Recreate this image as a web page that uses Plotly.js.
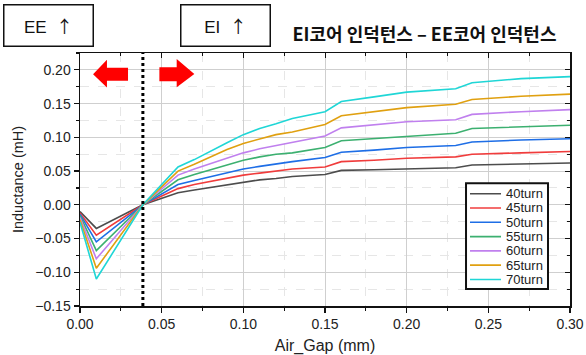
<!DOCTYPE html>
<html>
<head>
<meta charset="utf-8">
<script src="https://cdn.plot.ly/plotly-3.0.1.min.js"></script>
<style>html,body{margin:0;padding:0;background:#fff;}#chart{width:586px;height:355px;}</style>
</head>
<body>
<div id="chart"></div>
<script>
// Data
const airGap = [0, 0.01, 0.0385, 0.06, 0.07, 0.08, 0.09, 0.10, 0.11, 0.12, 0.13, 0.15, 0.16, 0.18, 0.20, 0.23, 0.24, 0.27, 0.30];
const turn40 = [-0.010, -0.035, 0, 0.018, 0.022, 0.026, 0.030, 0.034, 0.037, 0.039, 0.042, 0.045, 0.051, 0.052, 0.053, 0.055, 0.059, 0.061, 0.062];
const turn45 = [-0.012, -0.045, 0, 0.024, 0.030, 0.035, 0.039, 0.044, 0.047, 0.050, 0.053, 0.056, 0.064, 0.066, 0.069, 0.071, 0.075, 0.077, 0.079];
const turn50 = [-0.014, -0.055, 0, 0.030, 0.036, 0.042, 0.048, 0.053, 0.057, 0.061, 0.064, 0.070, 0.078, 0.081, 0.085, 0.088, 0.093, 0.096, 0.098];
const turn55 = [-0.016, -0.068, 0, 0.037, 0.045, 0.052, 0.059, 0.066, 0.071, 0.075, 0.077, 0.085, 0.095, 0.098, 0.102, 0.106, 0.113, 0.116, 0.118];
const turn60 = [-0.019, -0.080, 0, 0.044, 0.053, 0.061, 0.069, 0.077, 0.083, 0.088, 0.092, 0.102, 0.114, 0.118, 0.123, 0.126, 0.134, 0.138, 0.141];
const turn65 = [-0.022, -0.094, 0, 0.050, 0.060, 0.071, 0.082, 0.091, 0.098, 0.104, 0.108, 0.119, 0.132, 0.138, 0.144, 0.149, 0.156, 0.161, 0.164];
const turn70 = [-0.026, -0.110, 0, 0.056, 0.067, 0.080, 0.092, 0.104, 0.113, 0.120, 0.128, 0.138, 0.153, 0.160, 0.167, 0.172, 0.181, 0.187, 0.190];
const seriesNames = ['40turn', '45turn', '50turn', '55turn', '60turn', '65turn', '70turn'];
const seriesValues = [turn40, turn45, turn50, turn55, turn60, turn65, turn70];
const seriesColors = ['#4d4d4d', '#f03c3c', '#1e6ee6', '#3cb070', '#c080ee', '#e0a010', '#1fd6d6'];
const boundaryGap = 0.0385;
const titleText = 'EI코어 인덕턴스 – EE코어 인덕턴스';

const traces = seriesNames.map((n, i) => ({
  x: airGap, y: seriesValues[i], name: n, type: 'scatter', mode: 'lines',
  line: {color: seriesColors[i], width: 1.6}
}));
traces.push({x: [], y: [], xaxis: 'x2', yaxis: 'y2', showlegend: false, hoverinfo: 'skip'});

const sans = 'Liberation Sans, Arial, sans-serif';
const arrowSpan = '<span style="font-family:Noto Sans CJK KR">↑</span>';

// Compact legend (item spacing smaller than Plotly's minimum), built from the series arrays
const legX0 = 0.7878, legX1 = 0.9551, legYTop = 0.4848, legYBot = 0.0670;
const legFirst = 0.4439, legStep = 0.0565;
const legendShapes = [{type: 'rect', xref: 'paper', yref: 'paper', x0: legX0, x1: legX1, y0: legYBot, y1: legYTop,
  fillcolor: '#fff', line: {color: '#111', width: 2}}];
const legendAnns = [];
seriesNames.forEach((n, i) => {
  const yy = legFirst - i * legStep;
  legendShapes.push({type: 'line', xref: 'paper', yref: 'paper', x0: 0.7959, x1: 0.8592, y0: yy, y1: yy,
    line: {color: seriesColors[i], width: 1.6}});
  legendAnns.push({text: n, xref: 'paper', yref: 'paper', x: 0.8653, y: yy, xanchor: 'left', yanchor: 'middle',
    showarrow: false, font: {family: sans, size: 13, color: '#222'}});
});

const layout = {
  width: 586, height: 355,
  margin: {l: 80, r: 16, t: 53, b: 49},
  paper_bgcolor: '#fff', plot_bgcolor: '#fff',
  showlegend: false,
  font: {family: sans, size: 14, color: '#222'},
  title: {text: '<b>' + titleText + '</b>', font: {family: 'Noto Sans CJK KR', size: 18, color: '#111'},
          xref: 'paper', x: 0.703, xanchor: 'center', yref: 'container', y: 0.903, yanchor: 'middle'},
  xaxis: {
    range: [0, 0.30], dtick: 0.05, tickformat: '.2f',
    showline: true, linecolor: '#111', linewidth: 1.5,
    ticks: 'outside', ticklen: 5, tickcolor: '#111', tickwidth: 1.2,
    showgrid: true, gridcolor: '#cfcfcf', gridwidth: 1, zeroline: false,
    minor: {dtick: 0.025, ticks: 'outside', ticklen: 3, tickcolor: '#111', showgrid: true, gridcolor: '#e6e6e6', griddash: 'dash'},
    tickfont: {family: sans, size: 14, color: '#222'},
    title: {text: 'Air_Gap (mm)', font: {family: sans, size: 16, color: '#222'}, standoff: 9}
  },
  yaxis: {
    range: [-0.15, 0.225], dtick: 0.05, tick0: 0, tickformat: '.2f',
    showline: true, linecolor: '#111', linewidth: 1.5,
    ticks: 'outside', ticklen: 5, tickcolor: '#111', tickwidth: 1.2,
    showgrid: true, gridcolor: '#cfcfcf', gridwidth: 1, zeroline: false,
    minor: {dtick: 0.025, ticks: 'outside', ticklen: 3, tickcolor: '#111', showgrid: true, gridcolor: '#e6e6e6', griddash: 'dash'},
    tickfont: {family: sans, size: 14, color: '#222'},
    title: {text: 'Inductance (mH)', font: {family: sans, size: 14.5, color: '#222'}, standoff: 8}
  },
  xaxis2: {overlaying: 'x', matches: 'x', side: 'top', showline: true, linecolor: '#111', linewidth: 1.5,
    ticks: 'inside', ticklen: 5, tickcolor: '#111', dtick: 0.05, showticklabels: false, showgrid: false, zeroline: false,
    minor: {dtick: 0.025, ticks: 'inside', ticklen: 3, tickcolor: '#111', showgrid: false}},
  yaxis2: {overlaying: 'y', matches: 'y', side: 'right', showline: true, linecolor: '#111', linewidth: 1.5,
    ticks: 'inside', ticklen: 5, tickcolor: '#111', dtick: 0.05, tick0: 0, showticklabels: false, showgrid: false, zeroline: false,
    minor: {dtick: 0.025, ticks: 'inside', ticklen: 3, tickcolor: '#111', showgrid: false}},
  shapes: [
    {type: 'line', xref: 'x', yref: 'paper', x0: boundaryGap, x1: boundaryGap, y0: 0, y1: 1,
     line: {color: '#000', width: 3, dash: 'dot'}},
    {type: 'path', xref: 'x', yref: 'y', fillcolor: '#ff0000', line: {width: 0},
     path: 'M 0.0080 0.1936 L 0.0165 0.2151 L 0.0165 0.2033 L 0.0294 0.2033 L 0.0294 0.1840 L 0.0165 0.1840 L 0.0165 0.1737 Z'},
    {type: 'path', xref: 'x', yref: 'y', fillcolor: '#ff0000', line: {width: 0},
     path: 'M 0.0700 0.1939 L 0.0592 0.2161 L 0.0592 0.2037 L 0.0486 0.2037 L 0.0486 0.1830 L 0.0592 0.1830 L 0.0592 0.1741 Z'}
  ].concat(legendShapes),
  annotations: [
    {text: 'EE  ' + arrowSpan, xref: 'paper', yref: 'paper', x: -0.0643, y: 1.1096, xanchor: 'center', yanchor: 'middle',
     showarrow: false, width: 86, height: 38, bordercolor: '#111', borderwidth: 1.5, borderpad: 1, bgcolor: '#fff',
     font: {family: sans, size: 17, color: '#111'}},
    {text: 'EI  ' + arrowSpan, xref: 'paper', yref: 'paper', x: 0.296, y: 1.1096, xanchor: 'center', yanchor: 'middle',
     showarrow: false, width: 86, height: 38, bordercolor: '#111', borderwidth: 1.5, borderpad: 1, bgcolor: '#fff',
     font: {family: sans, size: 17, color: '#111'}}
  ].concat(legendAnns)
};
Plotly.newPlot('chart', traces, layout, {displayModeBar: false, staticPlot: true});
</script>
</body>
</html>
